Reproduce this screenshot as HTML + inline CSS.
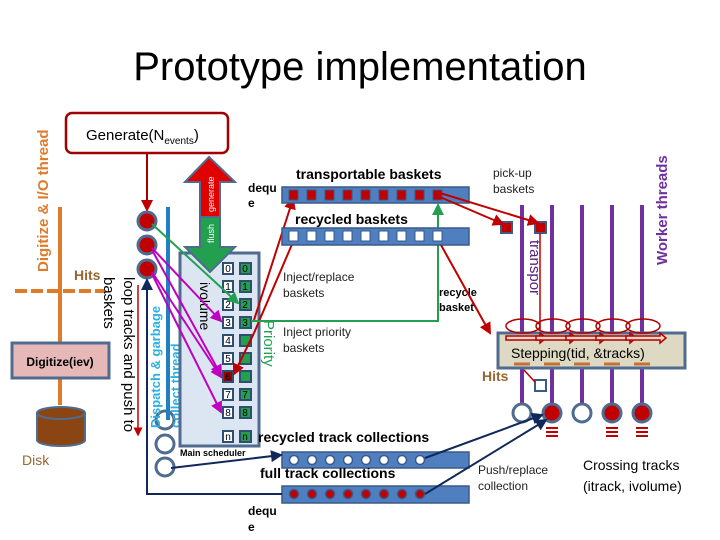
<!DOCTYPE html>
<html><head><meta charset="utf-8"><style>
body{margin:0;background:#fff}
svg{display:block;font-family:"Liberation Sans",sans-serif}
</style></head><body>
<svg width="720" height="540" viewBox="0 0 720 540" xmlns="http://www.w3.org/2000/svg">
<defs>
<marker id="ar" markerWidth="6" markerHeight="6" refX="5" refY="3" orient="auto"><path d="M0,0L6,3L0,6z" fill="#c00000"/></marker>
<marker id="am" markerWidth="6" markerHeight="6" refX="5" refY="3" orient="auto"><path d="M0,0L6,3L0,6z" fill="#c000c0"/></marker>
<marker id="ag" markerWidth="6" markerHeight="6" refX="5" refY="3" orient="auto"><path d="M0,0L6,3L0,6z" fill="#22a050"/></marker>
<marker id="an" markerWidth="6" markerHeight="6" refX="5" refY="3" orient="auto"><path d="M0,0L6,3L0,6z" fill="#10285a"/></marker>
</defs>
<text x="360" y="80" font-size="40" text-anchor="middle" fill="#000">Prototype implementation</text>

<!-- left digitize -->
<text transform="translate(48,272) rotate(-90)" font-size="15" font-weight="bold" fill="#e07b2a">Digitize &amp; I/O thread</text>
<line x1="60" y1="207" x2="60" y2="405" stroke="#e07b2a" stroke-width="4"/>
<line x1="15" y1="291" x2="105" y2="291" stroke="#e07b2a" stroke-width="4" stroke-dasharray="12,4"/>
<text x="74" y="280" font-size="14" font-weight="bold" fill="#996633">Hits</text>
<rect x="12" y="343" width="97" height="35" fill="#e6b8b7" stroke="#4f6b8f" stroke-width="3"/>
<text x="60" y="366" font-size="12" font-weight="bold" text-anchor="middle">Digitize(iev)</text>
<path d="M37,413 L37,440 A24,6 0 0 0 85,440 L85,413" fill="#8b4513" stroke="#4f6b8f" stroke-width="2"/>
<ellipse cx="61" cy="413" rx="24" ry="6" fill="#8b4513" stroke="#4f6b8f" stroke-width="2"/>
<text x="22" y="465" font-size="14" fill="#996633">Disk</text>

<!-- generate -->
<rect x="66" y="113" width="162" height="40" rx="6" fill="#fff" stroke="#a00000" stroke-width="2.5"/>
<text x="86" y="140" font-size="15">Generate(N<tspan font-size="10" dy="4">events</tspan><tspan dy="-4">)</tspan></text>
<line x1="147" y1="153" x2="147" y2="210" stroke="#a00000" stroke-width="2" marker-end="url(#ar)"/>

<!-- loop tracks text -->
<text transform="translate(104,277) rotate(90)" font-size="15">baskets</text>
<text transform="translate(124,277) rotate(90)" font-size="15">loop tracks and push to</text>
<line x1="138" y1="285" x2="138" y2="435" stroke="#c00000" stroke-width="1.5" marker-end="url(#ar)"/>

<circle cx="147" cy="221" r="9" fill="#c00000" stroke="#4f6b8f" stroke-width="3"/>
<circle cx="147" cy="245" r="9" fill="#c00000" stroke="#4f6b8f" stroke-width="3"/>
<circle cx="147" cy="269" r="9" fill="#c00000" stroke="#4f6b8f" stroke-width="3"/>
<circle cx="165" cy="420" r="9" fill="#fff" stroke="#4f6b8f" stroke-width="3"/>
<circle cx="165" cy="444" r="9" fill="#fff" stroke="#4f6b8f" stroke-width="3"/>
<circle cx="165" cy="467" r="9" fill="#fff" stroke="#4f6b8f" stroke-width="3"/>

<line x1="168" y1="207" x2="168" y2="420" stroke="#1f7fc0" stroke-width="4"/>
<text transform="translate(160,428) rotate(-90)" font-size="13" font-weight="bold" fill="#2ab0e0">Dispatch &amp; garbage</text>
<text transform="translate(180,428) rotate(-90)" font-size="13" font-weight="bold" fill="#2ab0e0">collect thread</text>

<!-- scheduler -->
<rect x="180" y="253" width="79" height="193" fill="#dce6f2" stroke="#4f6b8f" stroke-width="3"/>
<path d="M185,182 L209,157 L235,182 L220,182 L220,217 L200,217 L200,182Z" fill="#e00000" stroke="#4f6b8f" stroke-width="2"/>
<path d="M200,217 L220,217 L220,247 L235,247 L210,272 L185,247 L200,247Z" fill="#22a050" stroke="#4f6b8f" stroke-width="2"/>
<text transform="translate(214,212) rotate(-90)" font-size="9" fill="#fff">generate</text>
<text transform="translate(214,243) rotate(-90)" font-size="9" fill="#fff">flush</text>
<text transform="translate(200,282) rotate(90)" font-size="14">ivolume</text>
<g font-size="10" text-anchor="middle">
<g fill="#fff" stroke="#2f4f6f" stroke-width="2">
<rect x="223" y="263" width="10" height="11"/><rect x="223" y="281" width="10" height="11"/><rect x="223" y="299" width="10" height="11"/><rect x="223" y="317" width="10" height="11"/><rect x="223" y="335" width="10" height="11"/><rect x="223" y="353" width="10" height="11"/><rect x="223" y="371" width="10" height="11" fill="#a00000"/><rect x="223" y="389" width="10" height="11"/><rect x="223" y="407" width="10" height="11"/><rect x="223" y="431" width="10" height="11"/>
</g>
<g fill="#22a050" stroke="#2f4f6f" stroke-width="2">
<rect x="240" y="263" width="11" height="11"/><rect x="240" y="281" width="11" height="11"/><rect x="240" y="299" width="11" height="11"/><rect x="240" y="317" width="11" height="11"/><rect x="240" y="335" width="11" height="11"/><rect x="240" y="353" width="11" height="11"/><rect x="240" y="371" width="11" height="11"/><rect x="240" y="389" width="11" height="11"/><rect x="240" y="407" width="11" height="11"/><rect x="240" y="431" width="11" height="11"/>
</g>
<g>
<text x="228" y="272">0</text><text x="228" y="290">1</text><text x="228" y="308">2</text><text x="228" y="326">3</text><text x="228" y="344">4</text><text x="228" y="362">5</text><text x="228" y="380">6</text><text x="228" y="398">7</text><text x="228" y="416">8</text><text x="228" y="440">n</text>
<text x="245" y="272">0</text><text x="245" y="290">1</text><text x="245" y="308">2</text><text x="245" y="326">3</text><text x="245" y="398">7</text><text x="245" y="416">8</text><text x="245" y="440">n</text>
</g></g>
<text transform="translate(264,320) rotate(90)" font-size="15" fill="#22a050">Priority</text>
<text x="180" y="456" font-size="9" font-weight="bold">Main scheduler</text>

<!-- lines from circles -->
<line x1="152" y1="224" x2="238" y2="303" stroke="#22a050" stroke-width="2" marker-end="url(#ag)"/>
<line x1="152" y1="248" x2="221" y2="321" stroke="#c000c0" stroke-width="2" marker-end="url(#am)"/>
<line x1="152" y1="250" x2="221" y2="375" stroke="#c000c0" stroke-width="2" marker-end="url(#am)"/>
<line x1="152" y1="272" x2="221" y2="377" stroke="#c000c0" stroke-width="2" marker-end="url(#am)"/>
<line x1="152" y1="274" x2="221" y2="412" stroke="#c000c0" stroke-width="2" marker-end="url(#am)"/>
<line x1="254" y1="320" x2="293" y2="199" stroke="#c00000" stroke-width="2" marker-end="url(#ar)"/>
<line x1="254" y1="333" x2="293" y2="242" stroke="#c00000" stroke-width="2"/>
<line x1="254" y1="333" x2="234" y2="374" stroke="#c00000" stroke-width="2" marker-end="url(#ar)"/>
<path d="M251,321 L438,321 L438,205" fill="none" stroke="#22a050" stroke-width="2" marker-end="url(#ag)"/>

<!-- bars -->
<text x="248" y="192" font-size="12" font-weight="bold">dequ</text><text x="248" y="207" font-size="12" font-weight="bold">e</text>
<text x="296" y="179" font-size="14" font-weight="bold">transportable baskets</text>
<rect x="282" y="187" width="187" height="16" fill="#4f7fbf" stroke="#3a5a8a" stroke-width="1.5"/>
<g fill="#c00000" stroke="#3a5a8a" stroke-width="1">
<rect x="289" y="190" width="9" height="10"/><rect x="307" y="190" width="9" height="10"/><rect x="325" y="190" width="9" height="10"/><rect x="343" y="190" width="9" height="10"/><rect x="361" y="190" width="9" height="10"/><rect x="379" y="190" width="9" height="10"/><rect x="397" y="190" width="9" height="10"/><rect x="415" y="190" width="9" height="10"/><rect x="433" y="190" width="9" height="10"/></g>
<text x="295" y="224" font-size="14" font-weight="bold">recycled baskets</text>
<rect x="282" y="228" width="187" height="17" fill="#4f7fbf" stroke="#3a5a8a" stroke-width="1.5"/>
<g fill="#fff" stroke="#3a5a8a" stroke-width="1">
<rect x="289" y="231" width="9" height="10"/><rect x="307" y="231" width="9" height="10"/><rect x="325" y="231" width="9" height="10"/><rect x="343" y="231" width="9" height="10"/><rect x="361" y="231" width="9" height="10"/><rect x="379" y="231" width="9" height="10"/><rect x="397" y="231" width="9" height="10"/><rect x="415" y="231" width="9" height="10"/><rect x="433" y="231" width="9" height="10"/></g>
<text x="283" y="281" font-size="12" fill="#222">Inject/replace</text><text x="283" y="297" font-size="12" fill="#222">baskets</text>
<text x="283" y="336" font-size="12" fill="#222">Inject priority</text><text x="283" y="352" font-size="12" fill="#222">baskets</text>
<text x="439" y="296" font-size="11" font-weight="bold">recycle</text><text x="439" y="311" font-size="11" font-weight="bold">basket</text>

<text x="258" y="442" font-size="14" font-weight="bold">recycled track collections</text>
<rect x="282" y="452" width="187" height="16" fill="#4f7fbf" stroke="#3a5a8a" stroke-width="1.5"/>
<g fill="#fff" stroke="#3a5a8a" stroke-width="1.5">
<circle cx="294" cy="460" r="4.5"/><circle cx="312" cy="460" r="4.5"/><circle cx="330" cy="460" r="4.5"/><circle cx="348" cy="460" r="4.5"/><circle cx="366" cy="460" r="4.5"/><circle cx="384" cy="460" r="4.5"/><circle cx="402" cy="460" r="4.5"/><circle cx="420" cy="460" r="4.5"/></g>
<text x="260" y="478" font-size="14" font-weight="bold">full track collections</text>
<rect x="282" y="486" width="187" height="17" fill="#4f7fbf" stroke="#3a5a8a" stroke-width="1.5"/>
<g fill="#c00000" stroke="#3a5a8a" stroke-width="1.5">
<circle cx="294" cy="494" r="4.5"/><circle cx="312" cy="494" r="4.5"/><circle cx="330" cy="494" r="4.5"/><circle cx="348" cy="494" r="4.5"/><circle cx="366" cy="494" r="4.5"/><circle cx="384" cy="494" r="4.5"/><circle cx="402" cy="494" r="4.5"/><circle cx="420" cy="494" r="4.5"/></g>
<text x="248" y="515" font-size="12" font-weight="bold">dequ</text><text x="248" y="531" font-size="12" font-weight="bold">e</text>

<line x1="171" y1="468" x2="281" y2="455" stroke="#10285a" stroke-width="2" marker-end="url(#an)"/>
<path d="M282,494 L147,494 L147,280" fill="none" stroke="#10285a" stroke-width="2" marker-end="url(#an)"/>

<!-- workers -->
<g stroke="#7030a0" stroke-width="4">
<line x1="522" y1="205" x2="522" y2="405"/><line x1="552" y1="205" x2="552" y2="405"/><line x1="582" y1="205" x2="582" y2="405"/><line x1="612" y1="205" x2="612" y2="405"/><line x1="642" y1="205" x2="642" y2="405"/></g>
<text transform="translate(667,265) rotate(-90)" font-size="15" font-weight="bold" fill="#7030a0">Worker threads</text>
<text transform="translate(530,240) rotate(90)" font-size="15" fill="#5a2080">transpor</text>
<text x="493" y="177" font-size="12" fill="#222">pick-up</text><text x="493" y="193" font-size="12" fill="#222">baskets</text>
<rect x="501" y="222" width="11" height="11" fill="#c00000" stroke="#3a5a8a" stroke-width="2"/>
<rect x="535" y="222" width="11" height="11" fill="#c00000" stroke="#3a5a8a" stroke-width="2"/>
<line x1="440" y1="197" x2="503" y2="224" stroke="#c00000" stroke-width="2" marker-end="url(#ar)"/>
<line x1="440" y1="193" x2="538" y2="223" stroke="#c00000" stroke-width="2" marker-end="url(#ar)"/>
<line x1="441" y1="245" x2="490" y2="333" stroke="#c00000" stroke-width="2" marker-end="url(#ar)"/>
<line x1="540" y1="233" x2="540" y2="330" stroke="#c00000" stroke-width="1.5"/>

<rect x="498" y="333" width="187" height="35" fill="#ddd9c3" stroke="#4f6b8f" stroke-width="3"/>
<g fill="#f7d7c4" stroke="#b00000" stroke-width="1.5">
<ellipse cx="523" cy="326" rx="17" ry="7" fill="none"/><ellipse cx="553" cy="326" rx="17" ry="7" fill="none"/><ellipse cx="583" cy="326" rx="17" ry="7" fill="none"/><ellipse cx="613" cy="326" rx="17" ry="7" fill="none"/><ellipse cx="643" cy="326" rx="17" ry="7" fill="none"/>
<path d="M506,336 L540,336 L540,333 L546,338 L540,343 L540,340 L506,340Z"/><path d="M536,336 L570,336 L570,333 L576,338 L570,343 L570,340 L536,340Z"/><path d="M566,336 L600,336 L600,333 L606,338 L600,343 L600,340 L566,340Z"/><path d="M596,336 L630,336 L630,333 L636,338 L630,343 L630,340 L596,340Z"/><path d="M626,336 L660,336 L660,333 L666,338 L660,343 L660,340 L626,340Z"/>
</g>
<text x="511" y="358" font-size="14">Stepping(tid, &amp;tracks)</text>
<g stroke="#c87030" stroke-width="3">
<line x1="514" y1="364" x2="530" y2="364"/><line x1="544" y1="364" x2="560" y2="364"/><line x1="574" y1="364" x2="590" y2="364"/><line x1="604" y1="364" x2="620" y2="364"/><line x1="634" y1="364" x2="650" y2="364"/></g>
<text x="482" y="381" font-size="14" font-weight="bold" fill="#996633">Hits</text>
<rect x="535" y="380" width="11" height="11" fill="#fff" stroke="#3a5a8a" stroke-width="2"/>
<line x1="524" y1="370" x2="535" y2="382" stroke="#c00000" stroke-width="1.5"/>
<circle cx="522" cy="413" r="9" fill="#fff" stroke="#4f6b8f" stroke-width="3"/>
<circle cx="552" cy="413" r="9" fill="#c00000" stroke="#4f6b8f" stroke-width="3"/>
<circle cx="582" cy="413" r="9" fill="#fff" stroke="#4f6b8f" stroke-width="3"/>
<circle cx="612" cy="413" r="9" fill="#c00000" stroke="#4f6b8f" stroke-width="3"/>
<circle cx="642" cy="413" r="9" fill="#c00000" stroke="#4f6b8f" stroke-width="3"/>
<g stroke="#c00000" stroke-width="2">
<path d="M546,428h12M546,432h12M546,436h12"/><path d="M606,428h12M606,432h12M606,436h12"/><path d="M636,428h12M636,432h12M636,436h12"/></g>
<line x1="425" y1="458" x2="542" y2="415" stroke="#10285a" stroke-width="2" marker-end="url(#an)"/>
<line x1="425" y1="494" x2="546" y2="420" stroke="#10285a" stroke-width="2" marker-end="url(#an)"/>
<text x="478" y="474" font-size="12" fill="#222">Push/replace</text><text x="478" y="490" font-size="12" fill="#222">collection</text>
<text x="583" y="470" font-size="14">Crossing tracks</text><text x="583" y="491" font-size="14">(itrack, ivolume)</text>
</svg>
</body></html>
